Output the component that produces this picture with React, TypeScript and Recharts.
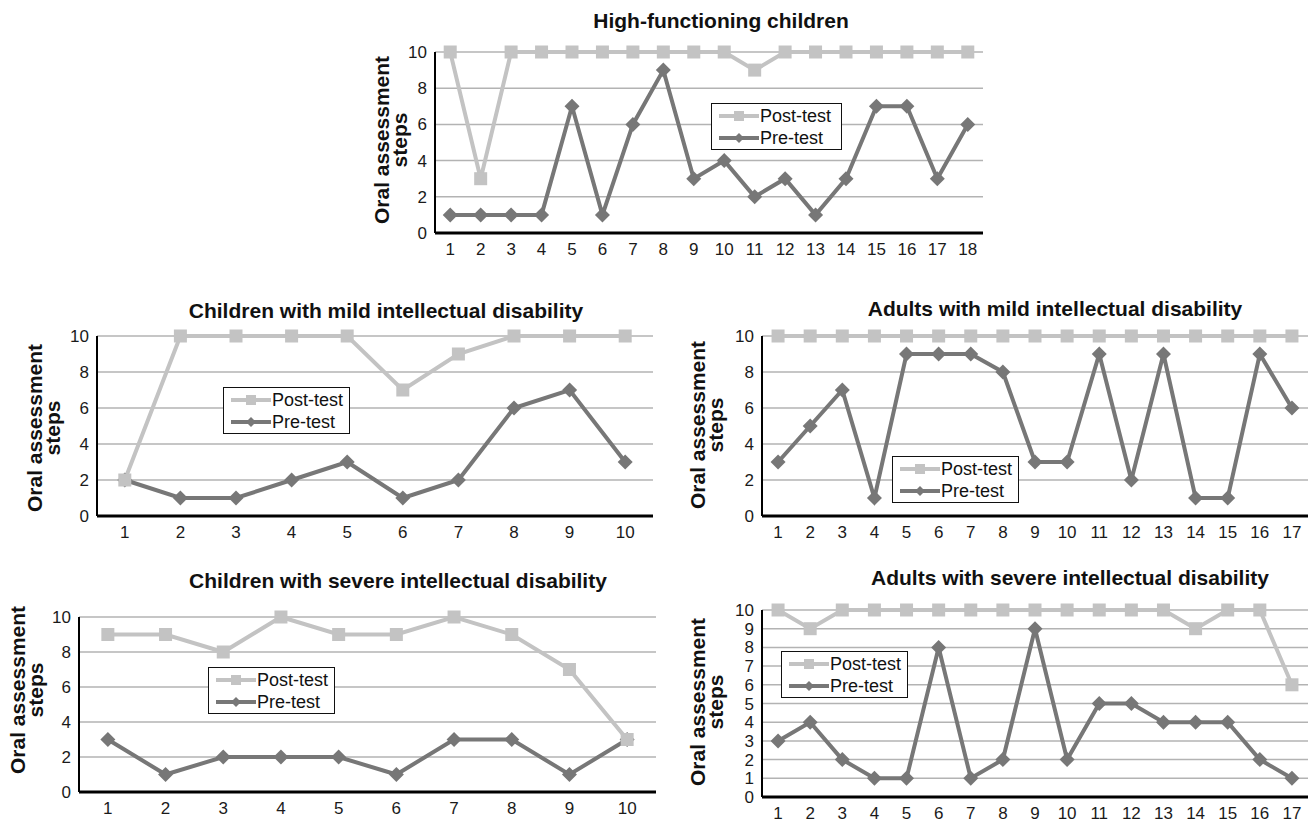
import React from 'react';
import { LineChart, Line, XAxis, YAxis, CartesianGrid, Legend } from 'recharts';

const FONT = '"Liberation Sans", Arial, Helvetica, sans-serif';
const POST_COLOR = '#c3c3c3';
const PRE_COLOR = '#777777';
const GRID_COLOR = '#b3b3b3';

// ---- data ----
const hfCategories = [1, 2, 3, 4, 5, 6, 7, 8, 9, 10, 11, 12, 13, 14, 15, 16, 17, 18];
const hfPost = [10, 3, 10, 10, 10, 10, 10, 10, 10, 10, 9, 10, 10, 10, 10, 10, 10, 10];
const hfPre = [1, 1, 1, 1, 7, 1, 6, 9, 3, 4, 2, 3, 1, 3, 7, 7, 3, 6];

const cmCategories = [1, 2, 3, 4, 5, 6, 7, 8, 9, 10];
const cmPost = [2, 10, 10, 10, 10, 7, 9, 10, 10, 10];
const cmPre = [2, 1, 1, 2, 3, 1, 2, 6, 7, 3];

const amCategories = [1, 2, 3, 4, 5, 6, 7, 8, 9, 10, 11, 12, 13, 14, 15, 16, 17];
const amPost = [10, 10, 10, 10, 10, 10, 10, 10, 10, 10, 10, 10, 10, 10, 10, 10, 10];
const amPre = [3, 5, 7, 1, 9, 9, 9, 8, 3, 3, 9, 2, 9, 1, 1, 9, 6];

const csCategories = [1, 2, 3, 4, 5, 6, 7, 8, 9, 10];
const csPost = [9, 9, 8, 10, 9, 9, 10, 9, 7, 3];
const csPre = [3, 1, 2, 2, 2, 1, 3, 3, 1, 3];

const asCategories = [1, 2, 3, 4, 5, 6, 7, 8, 9, 10, 11, 12, 13, 14, 15, 16, 17];
const asPost = [10, 9, 10, 10, 10, 10, 10, 10, 10, 10, 10, 10, 10, 9, 10, 10, 6];
const asPre = [3, 4, 2, 1, 1, 8, 1, 2, 9, 2, 5, 5, 4, 4, 4, 2, 1];

const yTicksEven = [0, 2, 4, 6, 8, 10];
const yTicksAll = [0, 1, 2, 3, 4, 5, 6, 7, 8, 9, 10];

const seriesNames = { post: 'Post-test', pre: 'Pre-test' };
const yLabelLines = ['Oral assessment', 'steps'];

const titleHF = 'High-functioning children';
const titleCM = 'Children with mild intellectual disability';
const titleAM = 'Adults with mild intellectual disability';
const titleCS = 'Children with severe intellectual disability';
const titleAS = 'Adults with severe intellectual disability';

type Rect = { x0: number; x1: number; y0: number; y1: number };

type PanelProps = {
  cats: number[];
  post: number[];
  pre: number[];
  yTicks: number[];
  plot: Rect;
  legend: { x: number; y: number; w: number };
  ylab: { l1: number; l2: number; cy: number };
};

const squareDot = (size: number, color: string) => (props: any) => {
  const { cx, cy, index } = props;
  if (cx == null || cy == null) return <g key={index} />;
  return <rect key={index} x={cx - size / 2} y={cy - size / 2} width={size} height={size} fill={color} />;
};

const diamondDot = (r: number, color: string) => (props: any) => {
  const { cx, cy, index } = props;
  if (cx == null || cy == null) return <g key={index} />;
  return (
    <polygon
      key={index}
      points={`${cx},${cy - r} ${cx + r},${cy} ${cx},${cy + r} ${cx - r},${cy}`}
      fill={color}
    />
  );
};

const LegendRow = ({ kind, label }: { kind: 'post' | 'pre'; label: string }) => {
  const color = kind === 'post' ? POST_COLOR : PRE_COLOR;
  return (
    <div style={{ display: 'flex', alignItems: 'center', height: 22 }}>
      <svg width={40} height={14} style={{ display: 'block' }}>
        <line x1={0} y1={7} x2={40} y2={7} stroke={color} strokeWidth={4} />
        {kind === 'post' ? (
          <rect x={15} y={2} width={10} height={10} fill={color} />
        ) : (
          <polygon points="20,2 25,7 20,12 15,7" fill={color} />
        )}
      </svg>
      <span style={{ marginLeft: 1, lineHeight: '22px' }}>{label}</span>
    </div>
  );
};

const LegendBox = ({ w }: { w: number }) => (
  <div
    style={{
      width: w,
      height: 47,
      boxSizing: 'border-box',
      border: '1.5px solid #111',
      background: '#fff',
      padding: '1px 0 0 7px',
      fontFamily: FONT,
      fontSize: 18,
      color: '#111',
    }}
  >
    <LegendRow kind="post" label={seriesNames.post} />
    <LegendRow kind="pre" label={seriesNames.pre} />
  </div>
);

const YW = 70;
const XH = 30;

const Panel = ({ cats, post, pre, yTicks, plot, legend, ylab }: PanelProps) => {
  const boxLeft = Math.max(0, plot.x0 - YW - 6);
  const boxTop = plot.y0 - 12;
  const boxRight = Math.min(1312, plot.x1 + 4);
  const boxBottom = plot.y1 + XH + 2;
  const width = boxRight - boxLeft;
  const height = boxBottom - boxTop;
  const margin = {
    top: plot.y0 - boxTop,
    left: plot.x0 - boxLeft - YW,
    right: boxRight - plot.x1,
    bottom: boxBottom - plot.y1 - XH,
  };
  const data = cats.map((c, i) => ({ x: c, post: post[i], pre: pre[i] }));
  const n = cats.length;
  const axisX = plot.x0 - boxLeft;
  const cyRel = ylab.cy - boxTop;

  const renderYLabel = () => (
    <g>
      <text
        transform={`translate(${axisX - ylab.l1}, ${cyRel}) rotate(-90)`}
        textAnchor="middle"
        fontSize={21}
        fontWeight="bold"
        fill="#111"
        fontFamily={FONT}
      >
        {yLabelLines[0]}
      </text>
      <text
        transform={`translate(${axisX - ylab.l2}, ${cyRel}) rotate(-90)`}
        textAnchor="middle"
        fontSize={21}
        fontWeight="bold"
        fill="#111"
        fontFamily={FONT}
      >
        {yLabelLines[1]}
      </text>
    </g>
  );

  return (
    <div style={{ position: 'absolute', left: boxLeft, top: boxTop, width, height }}>
      <LineChart width={width} height={height} data={data} margin={margin}>
        <CartesianGrid vertical={false} stroke={GRID_COLOR} strokeWidth={1.5} />
        <XAxis
          type="number"
          dataKey="x"
          domain={[0.5, n + 0.5]}
          ticks={cats}
          interval={0}
          allowDataOverflow
          tickLine={false}
          tickMargin={4}
          height={XH}
          axisLine={{ stroke: '#000', strokeWidth: 3 }}
          tick={{ fontSize: 17, fill: '#1a1a1a', fontFamily: FONT }}
        />
        <YAxis
          type="number"
          domain={[0, 10]}
          ticks={yTicks}
          interval={0}
          width={YW}
          tickLine={false}
          tickMargin={2}
          axisLine={{ stroke: '#000', strokeWidth: 2 }}
          tick={{ fontSize: 17, fill: '#1a1a1a', fontFamily: FONT }}
          label={{ content: renderYLabel }}
        />
        <Legend
          layout="vertical"
          align="center"
          verticalAlign="middle"
          content={() => <LegendBox w={legend.w} />}
          wrapperStyle={{ left: legend.x - boxLeft, top: legend.y - boxTop, width: legend.w, height: 47 }}
        />
        <Line
          type="linear"
          dataKey="pre"
          name={seriesNames.pre}
          stroke={PRE_COLOR}
          strokeWidth={4}
          dot={diamondDot(7.5, PRE_COLOR)}
          activeDot={false}
          isAnimationActive={false}
        />
        <Line
          type="linear"
          dataKey="post"
          name={seriesNames.post}
          stroke={POST_COLOR}
          strokeWidth={4}
          dot={squareDot(13, POST_COLOR)}
          activeDot={false}
          isAnimationActive={false}
        />
      </LineChart>
    </div>
  );
};

const titleStyle = { fontSize: 21, fontWeight: 'bold' as const, fill: '#111', fontFamily: FONT };

export default function App() {
  return (
    <div
      style={{
        position: 'absolute',
        left: 0,
        top: 0,
        width: 1312,
        height: 822,
        background: '#fff',
        overflow: 'hidden',
        fontFamily: FONT,
      }}
    >
      <Panel
        cats={hfCategories}
        post={hfPost}
        pre={hfPre}
        yTicks={yTicksEven}
        plot={{ x0: 435, x1: 983, y0: 52, y1: 233 }}
        legend={{ x: 711, y: 103, w: 131 }}
        ylab={{ l1: 46, l2: 28, cy: 140 }}
      />
      <Panel
        cats={cmCategories}
        post={cmPost}
        pre={cmPre}
        yTicks={yTicksEven}
        plot={{ x0: 97, x1: 653, y0: 336, y1: 516 }}
        legend={{ x: 223, y: 387, w: 127 }}
        ylab={{ l1: 55, l2: 37, cy: 428 }}
      />
      <Panel
        cats={amCategories}
        post={amPost}
        pre={amPre}
        yTicks={yTicksEven}
        plot={{ x0: 762, x1: 1308, y0: 336, y1: 516 }}
        legend={{ x: 892, y: 456, w: 127 }}
        ylab={{ l1: 57, l2: 39, cy: 425 }}
      />
      <Panel
        cats={csCategories}
        post={csPost}
        pre={csPre}
        yTicks={yTicksEven}
        plot={{ x0: 79, x1: 656, y0: 617, y1: 792 }}
        legend={{ x: 208, y: 667, w: 127 }}
        ylab={{ l1: 54, l2: 36, cy: 690 }}
      />
      <Panel
        cats={asCategories}
        post={asPost}
        pre={asPre}
        yTicks={yTicksAll}
        plot={{ x0: 762, x1: 1308, y0: 610, y1: 797 }}
        legend={{ x: 781, y: 651, w: 127 }}
        ylab={{ l1: 57, l2: 39, cy: 702 }}
      />
      <svg
        width={1312}
        height={822}
        style={{ position: 'absolute', left: 0, top: 0, pointerEvents: 'none' }}
      >
        <text x={721} y={28} textAnchor="middle" {...titleStyle}>{titleHF}</text>
        <text x={386} y={318} textAnchor="middle" {...titleStyle}>{titleCM}</text>
        <text x={1055} y={316} textAnchor="middle" {...titleStyle}>{titleAM}</text>
        <text x={398} y={588} textAnchor="middle" {...titleStyle}>{titleCS}</text>
        <text x={1070} y={585} textAnchor="middle" {...titleStyle}>{titleAS}</text>
      </svg>
    </div>
  );
}
